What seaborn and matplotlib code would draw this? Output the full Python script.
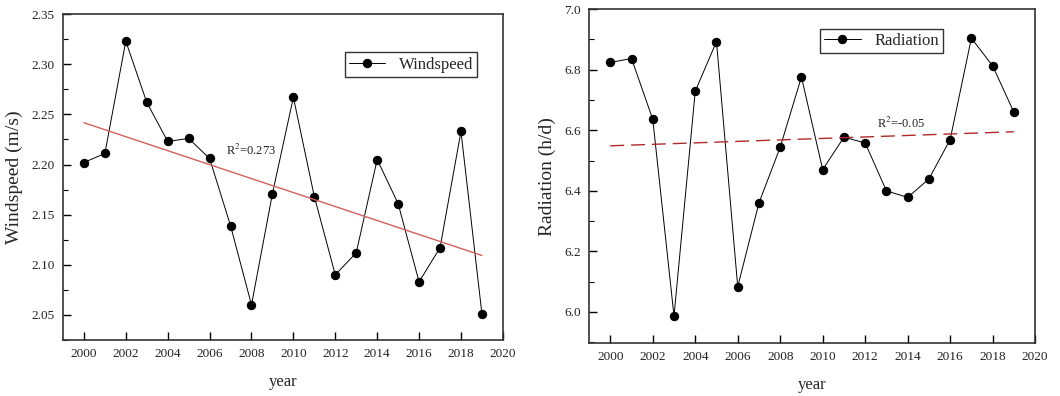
import numpy as np
import pandas as pd
import matplotlib
matplotlib.use("Agg")
import matplotlib.pyplot as plt
import seaborn as sns
from matplotlib.ticker import MultipleLocator

years = list(range(2000, 2020))
windspeed = [2.202, 2.211, 2.323, 2.262, 2.223, 2.226, 2.206, 2.139, 2.060, 2.171,
             2.267, 2.168, 2.090, 2.112, 2.205, 2.161, 2.083, 2.117, 2.233, 2.051]
radiation = [6.824, 6.837, 6.636, 5.986, 6.729, 6.893, 6.083, 6.360, 6.544, 6.776,
             6.470, 6.577, 6.558, 6.400, 6.378, 6.439, 6.569, 6.904, 6.813, 6.660]
r2_wind = "R$^2$=0.273"
r2_rad = "R$^2$=-0.05"

sns.set_theme(style="white")
plt.rcParams['font.family'] = ['Liberation Serif', 'DejaVu Serif']
plt.rcParams['mathtext.fontset'] = 'stix'

df = pd.DataFrame({"year": years, "Windspeed": windspeed, "Radiation": radiation})

fig = plt.figure(figsize=(10.6, 3.96), dpi=100)
ax1 = fig.add_axes([0.0594, 0.1414, 0.415, 0.823])
ax2 = fig.add_axes([0.5557, 0.1338, 0.4208, 0.843])

def style_axis(ax, ylim, ymaj, ymin_):
    ax.set_xlim(1999, 2020)
    ax.set_ylim(*ylim)
    ax.xaxis.set_major_locator(MultipleLocator(2))
    ax.yaxis.set_major_locator(MultipleLocator(ymaj))
    ax.yaxis.set_minor_locator(MultipleLocator(ymin_))
    ax.tick_params(axis='both', which='major', direction='in', length=6, width=1,
                   labelsize=9.5, color='black', labelcolor='#222222', pad=6)
    ax.tick_params(axis='y', which='minor', direction='in', length=3.5, width=0.8,
                   color='black', left=True)
    ax.tick_params(bottom=True, left=True, top=False, right=False)
    for s in ax.spines.values():
        s.set_color('#333333')
        s.set_linewidth(1.2)
    ax.set_xlabel("year", fontsize=12, labelpad=10)

# Left: windspeed
sns.lineplot(data=df, x="year", y="Windspeed", ax=ax1, color='black', linewidth=0.7,
             marker='o', markersize=6, markeredgecolor='black', label="Windspeed")
sns.regplot(data=df, x="year", y="Windspeed", ax=ax1, scatter=False, ci=None,
            line_kws=dict(color='#d06060', linewidth=1.0))
style_axis(ax1, (2.025, 2.35), 0.05, 0.025)
ax1.yaxis.set_major_formatter(matplotlib.ticker.FormatStrFormatter('%.2f'))
ax1.set_ylabel("Windspeed (m/s)", fontsize=14, labelpad=6)
ax1.text(2006.8, 2.214, r2_wind, fontsize=9, ha='left', va='center', color='#222222')
leg1 = ax1.legend(loc='upper right', bbox_to_anchor=(0.961, 0.908), fontsize=12,
                  frameon=True, fancybox=False, edgecolor='#333333', framealpha=1,
                  borderpad=0.25, handlelength=2.2)
leg1.get_frame().set_linewidth(1.0)

# Right: radiation
sns.lineplot(data=df, x="year", y="Radiation", ax=ax2, color='black', linewidth=0.7,
             marker='o', markersize=6, markeredgecolor='black', label="Radiation")
sns.regplot(data=df, x="year", y="Radiation", ax=ax2, scatter=False, ci=None,
            line_kws=dict(color='#b02a2a', linewidth=1.0, dashes=(10, 5)))
style_axis(ax2, (5.897, 7.0), 0.2, 0.1)
ax2.yaxis.set_major_formatter(matplotlib.ticker.FormatStrFormatter('%.1f'))
ax2.set_ylabel("Radiation (h/d)", fontsize=14, labelpad=6)
ax2.text(2012.55, 6.624, r2_rad, fontsize=9, ha='left', va='center', color='#222222')
leg2 = ax2.legend(loc='upper right', bbox_to_anchor=(0.812, 0.967), fontsize=12,
                  frameon=True, fancybox=False, edgecolor='#333333', framealpha=1,
                  borderpad=0.25, handlelength=2.2)
leg2.get_frame().set_linewidth(1.0)

fig.savefig("out.png", dpi=100, facecolor='white')
